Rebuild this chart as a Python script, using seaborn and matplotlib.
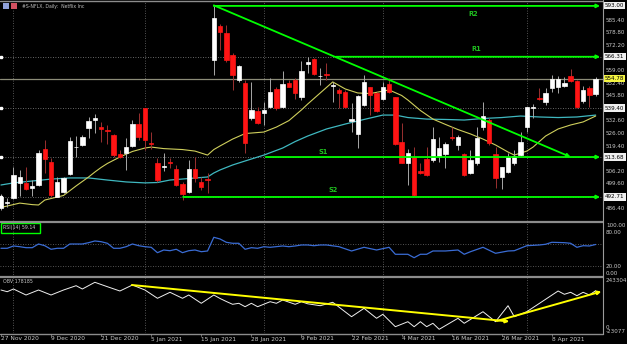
import matplotlib
matplotlib.use("Agg")
import matplotlib.pyplot as plt
import matplotlib.transforms as mtransforms
from matplotlib.lines import Line2D
from matplotlib.patches import Rectangle
import seaborn as sns

# ---------------- data ----------------
bar_index = list(range(1, 97))
open_ = [487.0, 489.8, 492.4, 500.3, 500.2, 497.3, 499.0, 517.9, 511.1, 492.8,
         495.5, 504.8, 518.8, 520.0, 528.8, 533.1, 529.3, 527.9, 525.2, 515.1,
         515.9, 519.5, 531.0, 539.3, 521.2, 510.4, 508.3, 510.9, 507.4, 499.4,
         495.3, 507.4, 500.8, 502.1, 564.6, 582.5, 578.6, 567.2, 554.1, 552.4,
         534.0, 538.0, 536.9, 540.1, 549.2, 539.8, 552.4, 554.1, 545.0, 562.4,
         565.0, 556.1, 557.3, 551.1, 548.9, 548.0, 532.6, 525.8, 541.0, 550.3,
         547.4, 544.0, 552.0, 545.0, 521.7, 510.4, 513.5, 506.5, 512.6, 512.1,
         514.2, 515.3, 524.3, 520.0, 515.3, 505.4, 510.4, 529.3, 533.1, 515.3,
         503.3, 506.0, 510.4, 514.7, 529.3, 539.5, 544.8, 542.7, 549.8, 550.6,
         551.0, 556.2, 553.8, 543.2, 550.1, 546.6]
high = [494.3, 492.2, 508.4, 506.9, 508.2, 501.6, 517.4, 522.6, 513.2, 503.3,
        503.3, 524.2, 524.7, 525.2, 534.8, 536.3, 532.2, 530.5, 525.8, 517.4,
        523.5, 533.1, 536.6, 539.6, 527.0, 513.2, 515.6, 513.2, 509.5, 500.7,
        512.1, 513.7, 503.2, 505.3, 593.0, 583.5, 583.0, 568.3, 562.0, 554.1,
        553.1, 539.9, 542.6, 555.0, 550.4, 559.0, 554.1, 555.0, 564.2, 566.0,
        565.7, 560.2, 563.2, 553.2, 549.7, 548.9, 541.9, 546.2, 556.7, 550.6,
        548.0, 553.2, 555.0, 545.3, 531.4, 517.7, 518.8, 510.4, 519.1, 529.6,
        524.3, 521.7, 529.6, 525.2, 515.6, 517.4, 529.6, 542.7, 534.0, 518.8,
        508.6, 515.6, 517.4, 527.0, 540.1, 541.5, 549.9, 549.7, 556.7, 556.2,
        555.7, 559.7, 554.1, 551.0, 551.0, 555.8]
low = [486.0, 487.4, 491.9, 493.2, 496.4, 493.2, 498.5, 505.3, 492.8, 492.5,
       494.8, 504.2, 513.8, 519.5, 523.5, 526.1, 521.7, 520.5, 513.8, 513.0,
       506.9, 518.8, 522.6, 517.4, 517.7, 500.6, 506.5, 507.9, 498.5, 491.1,
       494.8, 500.6, 496.4, 494.8, 556.7, 569.9, 563.6, 548.9, 553.1, 515.6,
       533.1, 531.0, 530.5, 539.3, 538.4, 539.3, 550.3, 544.0, 543.6, 557.6,
       556.7, 551.5, 554.1, 542.7, 539.3, 539.3, 527.0, 518.3, 540.5, 535.7,
       537.5, 543.6, 547.4, 520.0, 510.4, 499.0, 493.2, 504.8, 503.7, 511.2,
       511.2, 507.8, 522.6, 517.4, 503.7, 504.8, 509.5, 527.9, 520.0, 497.3,
       496.7, 505.1, 509.5, 514.2, 527.0, 534.2, 543.6, 541.0, 548.0, 547.4,
       550.3, 553.2, 539.3, 542.2, 540.1, 545.7]
close = [492.7, 490.3, 504.2, 503.3, 496.7, 498.5, 515.6, 512.5, 493.7, 500.7,
         502.5, 522.2, 519.2, 524.3, 532.8, 534.2, 528.6, 527.1, 514.7, 513.8,
         518.8, 530.9, 524.3, 522.6, 520.5, 501.6, 508.8, 510.3, 499.0, 494.1,
         507.4, 502.7, 498.2, 501.8, 586.5, 579.1, 564.6, 556.7, 561.6, 520.9,
         538.4, 531.7, 538.4, 547.7, 539.3, 552.0, 550.6, 547.4, 559.0, 563.7,
         557.3, 556.4, 556.5, 551.5, 547.4, 539.8, 533.5, 545.7, 552.9, 546.2,
         538.0, 550.3, 548.0, 520.5, 510.7, 515.9, 493.7, 505.4, 504.2, 523.0,
         518.3, 520.4, 523.5, 524.0, 504.2, 512.1, 523.5, 535.2, 521.2, 502.5,
         508.3, 513.8, 514.2, 521.7, 539.8, 539.9, 544.0, 547.1, 554.5, 554.7,
         552.7, 553.6, 540.1, 548.9, 546.2, 554.78]

ma_fast_idx = [1, 4, 6, 7, 8, 10, 11, 13, 15, 16, 17, 18, 20, 22, 24, 25, 27, 30, 32, 34,
               35, 36, 38, 40, 43, 45, 47, 49, 50, 52, 54, 56, 58, 60, 63, 65, 66, 68, 70,
               72, 74, 76, 78, 80, 82, 83, 85, 86, 88, 90, 92, 94, 96]
ma_fast_val = [487.2, 489.5, 488.7, 488.5, 491.1, 492.7, 493.5, 498.5, 503.2, 505.8, 508.2,
               510.3, 513.7, 516.6, 518.4, 518.9, 518.1, 517.6, 516.8, 514.7, 517.6, 519.5,
               523.1, 526.0, 526.8, 529.4, 532.8, 538.4, 541.5, 547.3, 553.1, 549.4, 547.3,
               547.0, 548.9, 546.0, 543.6, 538.1, 533.6, 530.8, 528.1, 525.8, 523.1, 520.0,
               516.3, 514.7, 516.8, 518.9, 524.7, 528.4, 530.5, 532.1, 535.2]
ma_slow_idx = [1, 3, 6, 9, 12, 15, 18, 21, 24, 26, 28, 31, 34, 35, 36, 38, 40, 43, 46, 48,
               50, 53, 56, 59, 62, 64, 66, 69, 72, 75, 78, 81, 84, 87, 90, 93, 96]
ma_slow_val = [499.0, 500.1, 501.1, 502.1, 502.7, 502.7, 501.6, 500.6, 500.1, 500.3, 501.6,
               502.4, 503.2, 505.3, 506.9, 509.5, 511.6, 514.7, 518.4, 521.8, 524.7, 528.4,
               531.0, 533.4, 535.7, 535.7, 534.4, 533.6, 533.4, 533.1, 533.9, 534.4, 535.2,
               534.7, 534.4, 534.7, 535.7]

rsi_idx = [1, 2, 3, 4, 5, 6, 7, 8, 9, 10, 11, 12, 14, 15, 16, 17, 18, 19, 20, 21, 22, 23,
           24, 25, 26, 27, 28, 29, 30, 31, 32, 33, 34, 35, 36, 37, 38, 39, 40, 41, 42, 43,
           44, 46, 47, 48, 49, 50, 51, 52, 53, 55, 57, 59, 61, 63, 64, 66, 67, 68, 69, 70,
           72, 74, 75, 76, 78, 80, 82, 83, 85, 87, 88, 89, 91, 92, 93, 94, 95, 96]
rsi_val = [52.2, 52.2, 56.4, 55.1, 53.3, 53.3, 60.0, 56.9, 50.4, 52.2, 52.2, 60.0, 60.0,
           62.4, 65.5, 64.2, 61.3, 52.2, 52.2, 55.1, 60.0, 56.9, 55.1, 54.0, 44.2, 49.1,
           47.8, 50.4, 44.2, 47.8, 49.1, 46.0, 47.3, 72.2, 69.1, 63.1, 61.3, 61.3, 50.4,
           53.3, 52.2, 55.1, 54.0, 56.4, 55.1, 56.4, 58.2, 58.2, 56.9, 58.2, 58.2, 55.1,
           47.3, 54.0, 49.1, 54.0, 41.3, 41.3, 35.1, 41.3, 41.3, 47.3, 47.3, 49.1, 41.3,
           46.0, 54.0, 43.1, 47.3, 47.8, 56.9, 58.2, 59.5, 63.1, 62.4, 61.3, 54.0, 56.9,
           56.4, 59.14]

obv_idx = [1, 2, 3, 5, 7, 9, 11, 13, 14, 16, 18, 20, 22, 24, 26, 28, 30, 31, 33, 35, 36,
           37, 38, 39, 40, 41, 42, 44, 45, 46, 48, 49, 50, 52, 54, 57, 59, 61, 62, 64, 66,
           67, 68, 69, 70, 71, 74, 75, 78, 80, 82, 83, 85, 90, 91, 92, 93, 94, 95, 96]
obv_val = [181463, 173376, 186220, 157678, 181463, 157678, 181463, 201918, 186220, 218092,
           197161, 176706, 205248, 181463, 141980, 170524, 141980, 157678, 118195, 157678,
           141028, 126757, 113438, 118195, 102021, 118195, 102021, 125806, 118195, 133893,
           113438, 125806, 115816, 106778, 122952, 54451, 94410, 46840, 65868, 6881, 30666,
           6881, 30666, 6881, 23055, -5487, 46840, 23055, 78236, 30666, 106778, 54451, 78236,
           176706, 161008, 170522, 154348, 170522, 157678, 178185]

level_prices = [593.00, 566.31, 539.40, 513.68, 492.71]
level_names = ["R2", "R1", None, "S1", "S2"]
level_start = [35.0, 54.5, None, 43.3, 30.1]
bid_price = 554.78
trend_main = [(35.0, 593.3), (92.0, 513.7)]
obv_trend1 = [(21.9, 205200), (82.2, 31600)]
obv_trend2 = [(80.2, 34000), (96.9, 174300)]

date_idx = [1, 9, 17, 25, 33, 41, 49, 57, 65, 73, 81, 89]
date_lbl = ["27 Nov 2020", "9 Dec 2020", "21 Dec 2020", "5 Jan 2021", "15 Jan 2021",
            "28 Jan 2021", "9 Feb 2021", "22 Feb 2021", "4 Mar 2021", "16 Mar 2021",
            "26 Mar 2021", "8 Apr 2021"]
month_grid_idx = [3, 24, 43, 62, 85]
price_ticks = [585.40, 578.80, 572.20, 559.00, 552.40, 545.80, 532.60, 526.00, 519.40,
               506.20, 499.60, 486.40]
rsi_ticks = [(100, "100.00"), (80, "80.00"), (20, "20.00"), (0, "0.00")]
rsi_levels = [60, 20]
obv_min, obv_max = -23077, 243304

# ---------------- style ----------------
sns.set_theme(style="dark", rc={"axes.facecolor": "black", "figure.facecolor": "black",
                                "savefig.facecolor": "black"})
plt.rcParams["font.family"] = ["DejaVu Sans"]

W, H = 627, 344
fig = plt.figure(figsize=(W / 100, H / 100), dpi=100)
fig.patch.set_facecolor("black")

def fy(px):
    return 1 - px / H

XR = 603 / W
XL, XH = 0.847, 97.17
ax = fig.add_axes([0, fy(221), XR, (221 - 2) / H])
ax_r = fig.add_axes([0, fy(277), XR, 55 / H])
ax_o = fig.add_axes([0, fy(333), XR, 56 / H])
for a in (ax, ax_r, ax_o):
    a.set_facecolor("black")
    a.set_xlim(XL, XH)
    a.set_axis_off()
ax.set_ylim(480.1, 595.05)
ax_r.set_ylim(0, 100)
ax_o.set_ylim(obv_min, obv_max)

GRID = "#6e6e6e"
for a in (ax, ax_r, ax_o):
    for g in month_grid_idx:
        a.axvline(g, color=GRID, lw=0.6, ls=(0, (1, 2)), zorder=0)

# horizontal level lines (dotted) and bid line
for p in level_prices[1:]:
    ax.axhline(p, color="#8a8a8a", lw=0.6, ls=(0, (1, 2)), zorder=1)
    ax.plot([XL + 0.15], [p], marker="s", ms=1.6, color="white", zorder=5, clip_on=False)
ax.axhline(bid_price, color="#8c8c78", lw=0.9, zorder=1)

# moving averages
sns.lineplot(x=ma_slow_idx, y=ma_slow_val, ax=ax, color="#3fb8c0", lw=0.9, zorder=2, legend=False)
sns.lineplot(x=ma_fast_idx, y=ma_fast_val, ax=ax, color="#cfcf5c", lw=0.8, zorder=2, legend=False)

# candles
RED = "#ff1414"
for i, o, h, l, c in zip(bar_index, open_, high, low, close):
    bull = c >= o
    wick = "#a8a8a8" if bull else "#9a3030"
    ax.vlines(i, l, h, colors=wick, lw=0.7, zorder=3)
    body_c = "white" if bull else RED
    ax.bar(i, abs(c - o), bottom=min(o, c), width=0.7, color=body_c,
           edgecolor=body_c, linewidth=0.5, zorder=4)

# green support / resistance
LIME = "#00ff00"
for p, name, s in zip(level_prices, level_names, level_start):
    if s is None:
        continue
    ax.annotate("", xy=(96.7, p), xytext=(s, p),
                arrowprops=dict(arrowstyle="-|>", color=LIME, lw=1.3, mutation_scale=5,
                                shrinkA=0, shrinkB=0), annotation_clip=False, zorder=6)
(tx0, ty0), (tx1, ty1) = trend_main
ax.annotate("", xy=(tx1, ty1), xytext=(tx0, ty0),
            arrowprops=dict(arrowstyle="-|>", color=LIME, lw=1.3, mutation_scale=5,
                            shrinkA=0, shrinkB=0), annotation_clip=False, zorder=6)
lab_pos = {"R2": (76.4, 588.8), "R1": (76.9, 570.4), "S1": (52.4, 516.1), "S2": (54.0, 496.4)}
for k, (lx, lp) in lab_pos.items():
    ax.text(lx, lp, k, color="#20c020", fontsize=4.8, fontweight="bold",
            ha="center", va="center", zorder=7)

# right price axis
tr_main = mtransforms.blended_transform_factory(fig.transFigure, ax.transData)
for t in price_ticks:
    ax.text(606 / W, t, f"{t:.2f}", transform=tr_main, color="#c8c8c8", fontsize=4.1,
            va="center", ha="left", clip_on=False)
    ax.add_line(Line2D([603 / W, 605 / W], [t, t], transform=tr_main, color="#a0a0a0", lw=0.5))
for p in level_prices:
    ax.text(605 / W, p, f"{p:.2f}", transform=tr_main, color="black", fontsize=4.1,
            va="center", ha="left", zorder=9, clip_on=False,
            bbox=dict(boxstyle="square,pad=0.18", fc="#f0f0f0", ec="none"))
ax.text(605 / W, bid_price, f"{bid_price:.2f}", transform=tr_main, color="black", fontsize=4.1,
        va="center", ha="left", zorder=9, clip_on=False,
        bbox=dict(boxstyle="square,pad=0.18", fc="#f5f542", ec="none"))

# RSI panel
for lv in rsi_levels:
    ax_r.axhline(lv, color=GRID, lw=0.6, ls=(0, (1, 2)), zorder=0)
sns.lineplot(x=rsi_idx, y=rsi_val, ax=ax_r, color="#3a6cd4", lw=0.9, legend=False)
tr_rsi = mtransforms.blended_transform_factory(fig.transFigure, ax_r.transData)
for v, s in rsi_ticks:
    yy = min(max(v, 6), 94)
    ax_r.text(606 / W, yy, s, transform=tr_rsi, color="#c8c8c8", fontsize=4.1,
              va="center", ha="left", clip_on=False)
fig.text(3 / W, fy(227.5), "RSI(14) 59.14", color="#c8c8c8", fontsize=3.4, va="center", ha="left")
fig.add_artist(Rectangle((1 / W, fy(232.5)), 39 / W, 10 / H, transform=fig.transFigure,
                         fill=False, ec=LIME, lw=1.0))

# OBV panel
sns.lineplot(x=obv_idx, y=obv_val, ax=ax_o, color="#f0f0f0", lw=0.7, legend=False)
for (x0, y0), (x1, y1) in (obv_trend1, obv_trend2):
    ax_o.annotate("", xy=(x1, y1), xytext=(x0, y0),
                  arrowprops=dict(arrowstyle="-|>", color="#ffff00", lw=1.4, mutation_scale=5,
                                  shrinkA=0, shrinkB=0), annotation_clip=False, zorder=6)
fig.text(3 / W, fy(281.5), "OBV 178185", color="#c8c8c8", fontsize=3.4, va="center", ha="left")
fig.text(606 / W, fy(280.5), f"{obv_max}", color="#c8c8c8", fontsize=4.1, va="center", ha="left")
fig.text(606 / W, fy(327.5), "0", color="#c8c8c8", fontsize=4.1, va="center", ha="left")
fig.text(606 / W, fy(331.5), f"{obv_min}", color="#c8c8c8", fontsize=4.1, va="center", ha="left")

# separators / frame
SEP = "#8c8c8c"
for yy, lw in ((222, 1.6), (277, 1.6), (334, 1.0), (0.6, 1.0)):
    fig.add_artist(Line2D([0, XR], [fy(yy), fy(yy)], transform=fig.transFigure, color=SEP, lw=lw))
fig.add_artist(Line2D([XR, XR], [fy(0), fy(334)], transform=fig.transFigure, color="#9a9a9a", lw=0.8))

# dates
for di, lb in zip(date_idx, date_lbl):
    xpx = max(-5.3 + 6.26 * di, 1.0)
    fig.text(xpx / W, fy(339), lb, color="#c8c8c8", fontsize=4.2, va="center", ha="left")
    fig.add_artist(Line2D([xpx / W] * 2, [fy(334), fy(336)], transform=fig.transFigure,
                          color="#9a9a9a", lw=0.5))

# title + icons
fig.add_artist(Rectangle((3 / W, fy(9)), 6 / W, 6 / H, transform=fig.transFigure,
                         fc="#8fa0d8", ec="none"))
fig.add_artist(Rectangle((11 / W, fy(9)), 6 / W, 6 / H, transform=fig.transFigure,
                         fc="#d05060", ec="none"))
fig.text(22 / W, fy(6.5), "#S-NFLX, Daily:  Netflix Inc", color="#c0c0c0", fontsize=3.3,
         va="center", ha="left")

fig.savefig("out.png", dpi=100, facecolor="black")
